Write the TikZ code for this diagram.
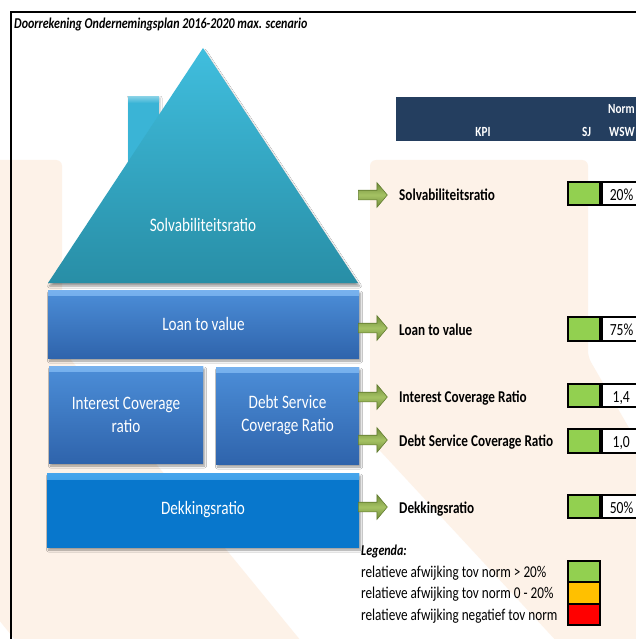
\documentclass[tikz,border=0pt]{standalone}
\usepackage{fontspec}
\setmainfont{Carlito}[FakeStretch=0.8]
\usetikzlibrary{shapes.arrows,shadows.blur}

\definecolor{peach}{RGB}{253,242,232}
\definecolor{roofTop}{RGB}{64,190,222}
\definecolor{roofBot}{RGB}{40,142,166}
\definecolor{chimFill}{RGB}{58,180,214}
\definecolor{boxTop}{RGB}{76,142,216}
\definecolor{boxBot}{RGB}{47,100,172}
\definecolor{boxHi}{RGB}{120,178,238}
\definecolor{baseFill}{RGB}{8,119,204}
\definecolor{baseHi}{RGB}{70,165,236}
\definecolor{navy}{RGB}{36,62,95}
\definecolor{arrowDark}{RGB}{112,140,56}
\definecolor{arrowLight}{RGB}{165,194,100}
\definecolor{arrowEdge}{RGB}{98,124,48}
\definecolor{okGreen}{RGB}{146,208,80}
\definecolor{warnOrange}{RGB}{255,192,0}
\definecolor{badRed}{RGB}{255,0,0}

\newcommand\kpifont{\bfseries\fontsize{16.5}{19}\selectfont}
\newcommand\blockfont{\fontsize{19}{23}\selectfont}
\newcommand\legfont{\fontsize{16.5}{19}\selectfont}

\tikzset{
  softshadow/.style={blur shadow={shadow xshift=1.5pt, shadow yshift=-3pt,
    shadow blur steps=6, shadow blur radius=2pt, shadow opacity=40}},
  housebox/.style={rectangle, inner sep=2pt, align=center, text=white,
    font=\blockfont, top color=boxTop, bottom color=boxBot, softshadow,
    path picture={\shade[top color=boxHi, bottom color=boxTop]
      (path picture bounding box.north west) rectangle
      ([yshift=-5pt]path picture bounding box.north east);}},
  basebox/.style={housebox, top color=baseFill, bottom color=baseFill,
    path picture={\shade[top color=baseHi, bottom color=baseFill]
      (path picture bounding box.north west) rectangle
      ([yshift=-6pt]path picture bounding box.north east);}},
  kpiarrow/.style={single arrow, draw=arrowEdge, line width=0.6pt,
    top color=arrowDark, bottom color=arrowDark, middle color=arrowLight,
    inner sep=4.5pt, single arrow head extend=7.5pt,
    single arrow tip angle=100, minimum height=29pt, anchor=tail},
  kpilabel/.style={anchor=base west, font=\kpifont, inner sep=0pt},
  cellbox/.style={draw=black, line width=1.8pt, minimum height=23.5pt,
    inner sep=0pt},
  okcell/.style={cellbox, fill=okGreen, minimum width=32pt},
  valcell/.style={cellbox, fill=white, minimum width=60pt, anchor=west},
  valtext/.style={anchor=base east, inner sep=0pt,
    font=\fontsize{17}{19}\selectfont},
  hdrtext/.style={anchor=base west, inner sep=0pt, text=white,
    font=\bfseries\fontsize{14}{16}\selectfont},
  legtext/.style={anchor=base west, inner sep=0pt, font=\legfont},
  swatch/.style={draw=black, line width=1.8pt, minimum width=32pt,
    minimum height=21.5pt, inner sep=0pt}
}

\begin{document}
\begin{tikzpicture}[x=1pt,y=-1pt]
\useasboundingbox (0,0) rectangle (636,639);
\clip (0,0) rectangle (636,639);
\fill[white] (0,0) rectangle (636,639);

% faint background emblem
\fill[peach, rounded corners=6pt] (-10,160) -- (62,160) -- (62,349)
  -- (310,652) -- (25,652) -- (-10,609) -- cycle;
\fill[peach, rounded corners=6pt] (370,160) -- (588,160) -- (588,357)
  -- (720,585) -- (720,700) -- (611,700) -- (370,440) -- cycle;

% sheet frame and title
\draw[line width=1.8pt] (11,650) -- (11,12) -- (650,12);
\node[anchor=base west, inner sep=0pt,
  font=\bfseries\itshape\fontsize{15}{17}\selectfont] (title) at (14,29)
  {Doorrekening Ondernemingsplan 2016-2020 max. scenario};

% table header
\node[fill=navy, anchor=north west, minimum width=260pt, minimum height=44pt,
  inner sep=0pt] (hdr) at (396,97) {};
\node[hdrtext] (hnorm) at (608,114) {Norm};
\node[hdrtext, anchor=base] (hkpi) at (483,136.5) {KPI};
\node[hdrtext] (hsj) at (582,136.5) {SJ};
\node[hdrtext] (hwsw) at (609,136.5) {WSW};

% house: chimney and roof
\path[fill=chimFill, blur shadow={shadow xshift=1pt, shadow yshift=-1pt,
  shadow blur radius=2pt, shadow opacity=25}] (128,97) rectangle (159,210);
\shade[top color=white!35!chimFill, bottom color=chimFill]
  (128,97) rectangle (159,103);
\path[top color=roofTop, bottom color=roofBot, softshadow]
  (48,283) -- (358,283) -- (203,48) -- cycle;
\node[text=white, font=\blockfont] (roof) at (203,225) {Solvabiliteitsratio};

% house: floors
\node[housebox, minimum width=311pt, minimum height=68pt] (ltv)
  at (203.5,324) {Loan to value};
\node[housebox, minimum width=154pt, minimum height=97pt] (icr)
  at (126,414.5) {Interest Coverage\\ratio};
\node[housebox, minimum width=143pt, minimum height=97pt] (dscr)
  at (287.5,415.5) {Debt Service\\Coverage Ratio};
\node[basebox, minimum width=312pt, minimum height=74pt] (dek)
  at (203,510) {Dekkingsratio};

% KPI arrows
\node[kpiarrow] (a1) at (358,195) {};
\node[kpiarrow] (a2) at (358,328) {};
\node[kpiarrow] (a3) at (358,397) {};
\node[kpiarrow] (a4) at (358,440) {};
\node[kpiarrow] (a5) at (358,507) {};

% KPI names
\node[kpilabel] (k1) at (399,200.5) {Solvabiliteitsratio};
\node[kpilabel] (k2) at (399,335) {Loan to value};
\node[kpilabel] (k3) at (399,402) {Interest Coverage Ratio};
\node[kpilabel] (k4) at (399,446.5) {Debt Service Coverage Ratio};
\node[kpilabel] (k5) at (399,513.5) {Dekkingsratio};

% status cells and norm values
\node[okcell] (s1) at (584,193.5) {};
\node[valcell] (w1) at (s1.east) {};
\node[valtext] (n1) at (633.5,200.5) {20\%};
\node[okcell] (s2) at (584,329) {};
\node[valcell] (w2) at (s2.east) {};
\node[valtext] (n2) at (633.5,335) {75\%};
\node[okcell] (s3) at (584,395.5) {};
\node[valcell] (w3) at (s3.east) {};
\node[valtext] (n3) at (630,402) {1,4};
\node[okcell] (s4) at (584,441) {};
\node[valcell] (w4) at (s4.east) {};
\node[valtext] (n4) at (630,447) {1,0};
\node[okcell] (s5) at (584,506.5) {};
\node[valcell] (w5) at (s5.east) {};
\node[valtext] (n5) at (633.5,513.5) {50\%};

% legend
\node[anchor=base west, inner sep=0pt,
  font=\bfseries\itshape\fontsize{15}{17}\selectfont] (leg) at (361,555.5)
  {Legenda:};
\node[legtext] (l1) at (361,577) {relatieve afwijking tov norm > 20\%};
\node[legtext] (l2) at (361,598.5) {relatieve afwijking tov norm 0 - 20\%};
\node[legtext] (l3) at (361,620) {relatieve afwijking negatief tov norm};
\node[swatch, fill=okGreen] (c1) at (584,571.5) {};
\node[swatch, fill=warnOrange] (c2) at (584,593) {};
\node[swatch, fill=badRed] (c3) at (584,614.5) {};
\end{tikzpicture}
\end{document}
